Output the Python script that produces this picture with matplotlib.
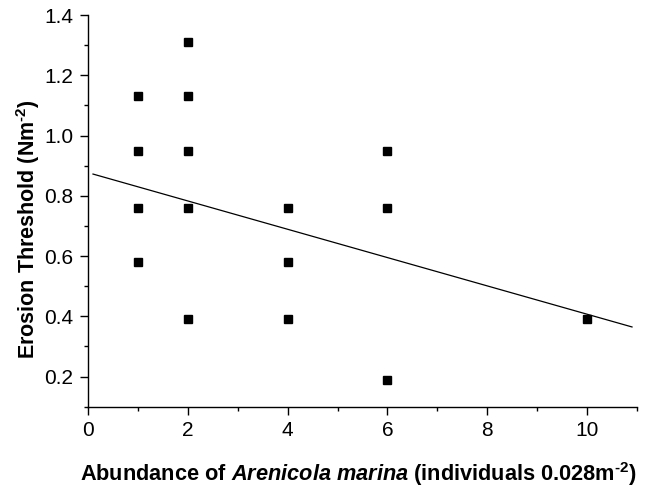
import matplotlib
matplotlib.use("Agg")
import matplotlib.pyplot as plt
from matplotlib.ticker import MultipleLocator

# Data
abundance = [1, 1, 1, 1, 2, 2, 2, 2, 2, 4, 4, 4, 6, 6, 6, 10]
threshold = [1.13, 0.95, 0.76, 0.58, 1.31, 1.13, 0.95, 0.76, 0.39,
             0.76, 0.58, 0.39, 0.95, 0.76, 0.19, 0.39]
fit_x = [0.1, 10.9]
fit_intercept = 0.877
fit_slope = -0.0470

plt.rcParams['font.family'] = ['Liberation Sans', 'DejaVu Sans']
plt.rcParams['mathtext.fontset'] = 'custom'
plt.rcParams['mathtext.rm'] = 'Liberation Sans:bold'
plt.rcParams['mathtext.it'] = 'Liberation Sans:bold:italic'
plt.rcParams['mathtext.bf'] = 'Liberation Sans:bold'

fig = plt.figure(figsize=(6.5, 4.87), dpi=100)
ax = fig.add_axes([0.1354, 0.1649, 0.98 - 0.1354, 0.969 - 0.1649])

ax.plot(abundance, threshold, linestyle='none', marker='s', markersize=6.2,
        color='black')
fit_y = [fit_intercept + fit_slope * x for x in fit_x]
ax.plot(fit_x, fit_y, color='black', linewidth=0.9)

ax.set_xlim(0, 11)
ax.set_ylim(0.1, 1.4)
ax.xaxis.set_major_locator(MultipleLocator(2))
ax.xaxis.set_minor_locator(MultipleLocator(1))
ax.set_yticks([0.2, 0.4, 0.6, 0.8, 1.0, 1.2, 1.4])
ax.yaxis.set_minor_locator(MultipleLocator(0.1))

for s in ['top', 'right']:
    ax.spines[s].set_visible(False)
for s in ['left', 'bottom']:
    ax.spines[s].set_linewidth(1.0)

ax.tick_params(which='major', direction='out', length=6, width=1.0,
               labelsize=15, pad=4.5)
ax.tick_params(which='minor', direction='out', length=3, width=1.0)

ax.set_ylabel('Erosion Threshold (Nm$^{\u2010 2}$)', fontsize=15.5,
              fontweight='bold', labelpad=2)
ax.yaxis.label.set_y(0.454)
ax.set_xlabel('Abundance of $Arenicola$ $marina$ (individuals 0.028m$^{\u2010 2}$)',
              fontsize=15.7, fontweight='bold', labelpad=14)
ax.xaxis.label.set_x(0.492)

fig.savefig('out.png', dpi=100)
